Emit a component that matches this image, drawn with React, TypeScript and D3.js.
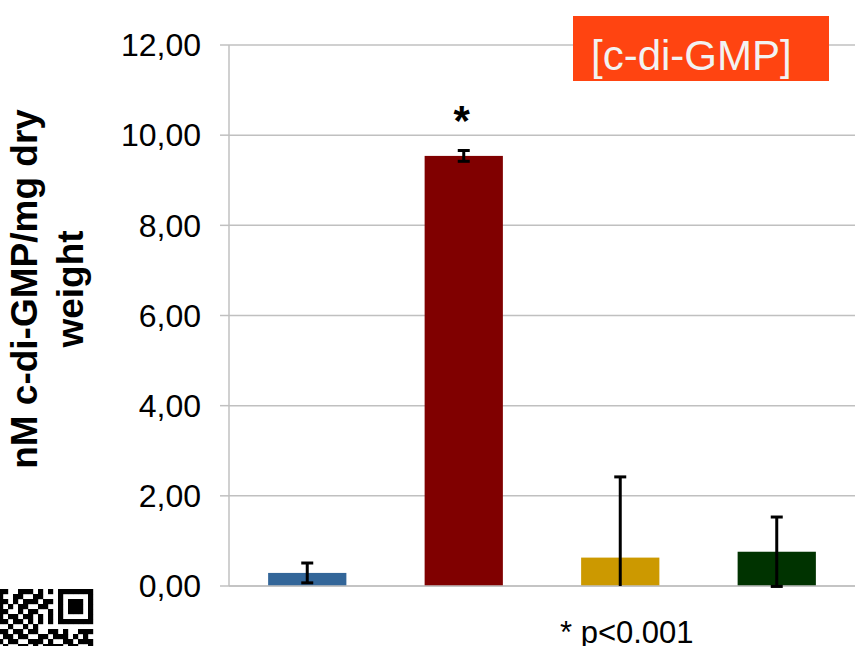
import React from "react";
import * as d3 from "d3";

const categories = ["S1", "S2", "S3", "S4"];
const values = [0.29, 9.54, 0.63, 0.76];
const errors = [0.22, 0.12, 1.79, 0.77];
const barColors = ["#336699", "#800000", "#cc9900", "#003300"];
const yTicks = [0, 2, 4, 6, 8, 10, 12];
const yLabelLines = ["nM c-di-GMP/mg dry", "weight"];
const significance = ["", "*", "", ""];
const title = "[c-di-GMP]";
const footnote = "* p<0.001";

const finder = ["1111111", "1000001", "1011101", "1011101", "1011101", "1000001", "1111111"];
const qrData = [
  "11001110101",
  "10011001100",
  "11010111011",
  "10101100110",
  "11001011001",
  "10110110101",
  "11011010101",
  "00100101000",
];
const qrLower = [
  "1101101100110100111",
  "0110110011011101010",
  "1011001110100110111",
  "0100110101111011001",
];

const W = 855;
const H = 646;
const FONT = "'Liberation Sans', Arial, Helvetica, sans-serif";

export default function App() {
  const x = d3.scaleBand<string>().domain(categories).range([229, 855]).paddingInner(0.5).paddingOuter(0.25);
  const y = d3.scaleLinear().domain([0, 12]).range([586, 45]);
  const fmt = (v: number) => d3.format(".2f")(v).replace(".", ",");
  const capW = 12;
  const qrM = 5;
  const qrX0 = -2;
  const qrY0 = 589;
  const qrRows = [
    ...qrData.map((d, r) => d + "0" + (r < 7 ? finder[r] : "0000000")),
    ...qrLower,
  ];

  return (
    <svg
      width={W}
      height={H}
      style={{ position: "absolute", left: 0, top: 0, background: "#fff" }}
      fontFamily={FONT}
    >
      {yTicks.map((t) => (
        <line key={"g" + t} x1={229} x2={855} y1={y(t)} y2={y(t)} stroke="#c0c0c0" strokeWidth={1.5} />
      ))}
      <line x1={229} x2={229} y1={y(12)} y2={y(0)} stroke="#c0c0c0" strokeWidth={1.5} />
      {yTicks.map((t) => (
        <g key={"t" + t}>
          <line x1={220} x2={229} y1={y(t)} y2={y(t)} stroke="#c0c0c0" strokeWidth={1.5} />
          <text x={201} y={y(t)} dy="0.35em" textAnchor="end" fontSize={32} fill="#000">
            {fmt(t)}
          </text>
        </g>
      ))}
      {categories.map((c, i) => (
        <rect
          key={"b" + c}
          x={x(c)!}
          y={y(values[i])}
          width={x.bandwidth()}
          height={y(0) - y(values[i])}
          fill={barColors[i]}
        />
      ))}
      <line x1={229} x2={855} y1={y(0)} y2={y(0)} stroke="#c0c0c0" strokeWidth={1.5} />
      {categories.map((c, i) => {
        const cx = x(c)! + x.bandwidth() / 2;
        const hi = values[i] + errors[i];
        const lo = values[i] - errors[i];
        const loClipped = lo < -0.1;
        const loV = loClipped ? 0 : lo;
        return (
          <g key={"e" + c} stroke="#000" strokeWidth={3}>
            <line x1={cx} x2={cx} y1={y(hi)} y2={y(loV)} />
            <line x1={cx - capW / 2} x2={cx + capW / 2} y1={y(hi)} y2={y(hi)} />
            {!loClipped && <line x1={cx - capW / 2} x2={cx + capW / 2} y1={y(loV)} y2={y(loV)} />}
          </g>
        );
      })}
      {categories.map((c, i) =>
        significance[i] ? (
          <text
            key={"s" + c}
            x={x(c)! + x.bandwidth() / 2 - 2}
            y={135}
            textAnchor="middle"
            fontSize={42}
            fontWeight="bold"
            fill="#000"
          >
            {significance[i]}
          </text>
        ) : null
      )}
      <g transform="translate(0,289) rotate(-90)">
        {yLabelLines.map((l, i) => (
          <text key={l} x={0} y={37 + i * 46} textAnchor="middle" fontSize={37} fontWeight="bold" fill="#000">
            {l}
          </text>
        ))}
      </g>
      <rect x={573} y={16} width={256} height={65} fill="#ff4411" />
      <text x={591} y={70} fontSize={42} fill="#f2f2f2">
        {title}
      </text>
      <text x={560} y={643} fontSize={31} fill="#000">
        {footnote}
      </text>
      <g fill="#000">
        {qrRows.map((row, r) =>
          row.split("").map((ch, cI) =>
            ch === "1" ? (
              <rect key={r + "-" + cI} x={qrX0 + cI * qrM} y={qrY0 + r * qrM} width={qrM + 0.2} height={qrM + 0.2} />
            ) : null
          )
        )}
      </g>
    </svg>
  );
}
